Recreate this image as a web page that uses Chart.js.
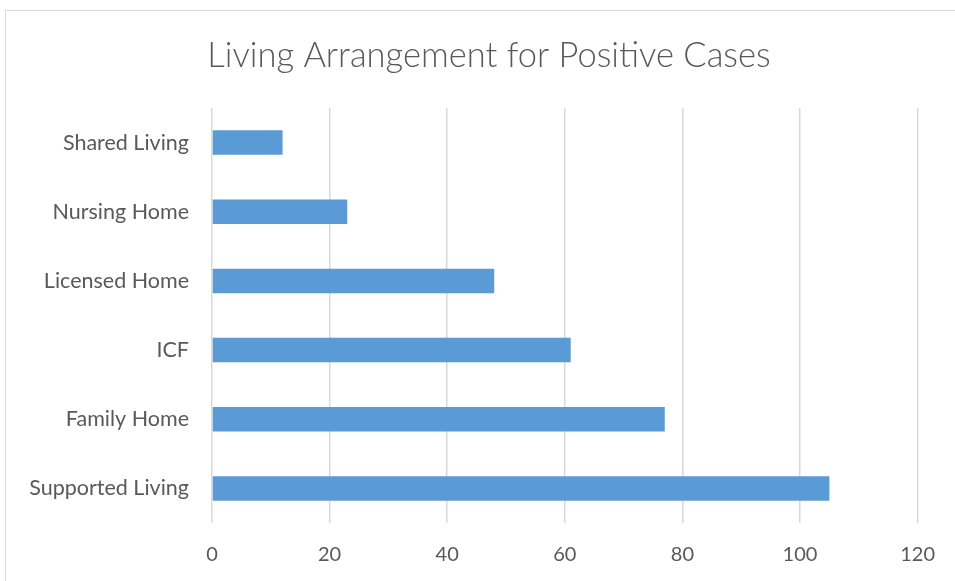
<!DOCTYPE html>
<html>
<head>
<meta charset="utf-8">
<script src="https://cdn.jsdelivr.net/npm/chart.js@4"></script>
<style>
  html, body { margin: 0; padding: 0; background: #fff; overflow: hidden; }
  #wrap { position: relative; width: 955px; height: 581px; }
  #frame { position: absolute; left: 5px; top: 10px; width: 970px; height: 600px; border: 1px solid #d9d9d9; box-sizing: border-box; }
  canvas { position: absolute; left: 0; top: 0; }
</style>
</head>
<body>
<div id="wrap">
  <div id="frame"></div>
  <canvas id="c" width="955" height="581"></canvas>
</div>
<script>
const chartTitle = 'Living Arrangement for Positive Cases';
const categories = ['Shared Living', 'Nursing Home', 'Licensed Home', 'ICF', 'Family Home', 'Supported Living'];
const values = [12, 23, 48, 61, 77, 105];
const xTicks = [0, 20, 40, 60, 80, 100, 120];

const textColor = '#595959';
const fontFamily = 'Lato, "Open Sans", sans-serif';

// Title centred over the whole chart frame (like the original), not just the canvas box
const frameTitle = {
  id: 'frameTitle',
  afterDraw(chart) {
    const ctx = chart.ctx;
    ctx.save();
    ctx.fillStyle = textColor;
    ctx.font = '300 34.5px ' + fontFamily;
    ctx.textAlign = 'center';
    ctx.textBaseline = 'alphabetic';
    ctx.fillText(chartTitle, 5 + 968 / 2, 67);
    ctx.restore();
  }
};

new Chart(document.getElementById('c'), {
  type: 'bar',
  data: {
    labels: categories,
    datasets: [{
      data: values,
      backgroundColor: '#5B9BD5',
      borderWidth: 0,
      barPercentage: 0.355,
      categoryPercentage: 1
    }]
  },
  plugins: [frameTitle],
  options: {
    indexAxis: 'y',
    responsive: false,
    animation: false,
    events: [],
    layout: { padding: { left: 0, right: 32, top: 108, bottom: 0 } },
    plugins: {
      legend: { display: false },
      tooltip: { enabled: false },
      title: { display: false }
    },
    scales: {
      x: {
        min: xTicks[0],
        max: xTicks[xTicks.length - 1],
        afterBuildTicks: (s) => { s.ticks = xTicks.map(v => ({ value: v })); },
        afterFit: (s) => { s.height = 58; },
        border: { display: false },
        grid: { color: '#d9d9d9', lineWidth: 1.5, drawTicks: false },
        ticks: { color: textColor, padding: 20, font: { family: fontFamily, size: 20 } }
      },
      y: {
        afterFit: (s) => { s.width = 212; },
        border: { display: false },
        grid: { display: false, drawTicks: false },
        ticks: { color: textColor, padding: 23, font: { family: fontFamily, size: 21.5 } }
      }
    }
  }
});
</script>
</body>
</html>
